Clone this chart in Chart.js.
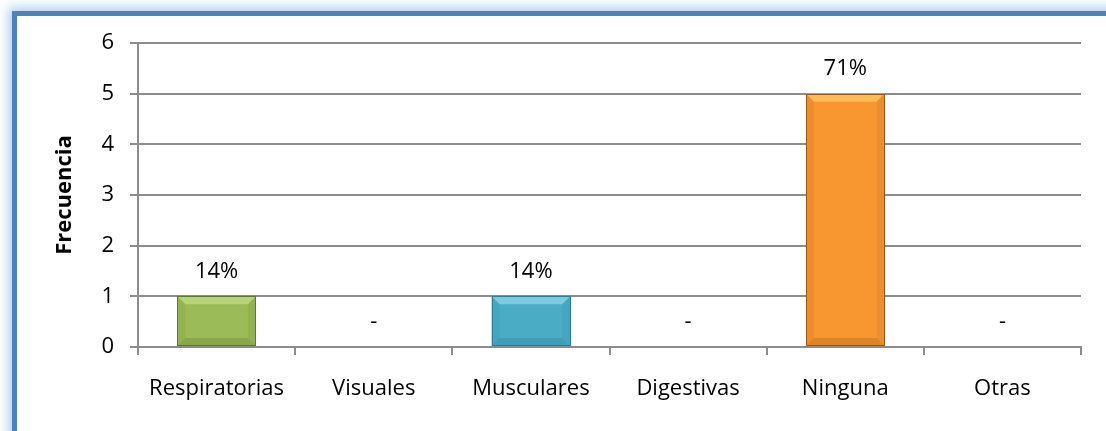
<!DOCTYPE html>
<html><head><meta charset="utf-8">
<script src="https://cdn.jsdelivr.net/npm/chart.js@4.4.1/dist/chart.umd.min.js"></script>
<style>
html,body{margin:0;padding:0;background:#fff;overflow:hidden;}
#wrap{position:relative;width:1106px;height:431px;overflow:hidden;background:#fff;}
#frame{position:absolute;left:12px;top:11px;width:2000px;height:2000px;border-left:5px solid #4F81BD;border-top:5px solid #4F81BD;background:#fff;box-shadow:0 0 10px 4px rgba(160,198,240,0.8);}
#c{position:absolute;left:0;top:0;}
</style></head>
<body><div id="wrap"><div id="frame"></div><canvas id="c" width="1106" height="431"></canvas></div>
<script>
const categories = ["Respiratorias","Visuales","Musculares","Digestivas","Ninguna","Otras"];
const frecuencia = [1,0,1,0,5,0];
const porcentajes = ["14%","-","14%","-","71%","-"];
const yTicks = [0,1,2,3,4,5,6];
const axisTitle = "Frecuencia";
const baseColors = ["#9BBB59","#4BACC6","#4BACC6","#4BACC6","#F8972F","#F79646"];
const lightColors = ["#bcd87e","#86cfe3","#86cfe3","#86cfe3","#ffbf5a","#ffbf5a"];
const darkColors = ["#5d7a2c","#2b7f96","#2b7f96","#2b7f96","#9e561a","#9e561a"];

const FONT = "'Open Sans', sans-serif";

const bevelPlugin = {
  id:'bevel',
  afterDatasetsDraw(chart){
    const ctx = chart.ctx;
    const meta = chart.getDatasetMeta(0);
    meta.data.forEach((bar,i)=>{
      const p = bar.getProps(['x','y','base','width'],true);
      const h = p.base - p.y;
      if (h <= 0) return;
      const l = p.x - p.width/2, r = p.x + p.width/2, t = p.y, b = p.base;
      const s = Math.min(8, h/3);
      ctx.save();
      ctx.fillStyle = lightColors[i];
      ctx.globalAlpha = 0.85;
      ctx.beginPath(); ctx.moveTo(l,t); ctx.lineTo(r,t); ctx.lineTo(r-s,t+s); ctx.lineTo(l+s,t+s); ctx.closePath(); ctx.fill();
      ctx.fillStyle = darkColors[i];
      ctx.globalAlpha = 0.12;
      ctx.beginPath(); ctx.moveTo(l,t); ctx.lineTo(l+s,t+s); ctx.lineTo(l+s,b-s); ctx.lineTo(l,b); ctx.closePath(); ctx.fill();
      ctx.beginPath(); ctx.moveTo(r,t); ctx.lineTo(r-s,t+s); ctx.lineTo(r-s,b-s); ctx.lineTo(r,b); ctx.closePath(); ctx.fill();
      ctx.globalAlpha = 0.3;
      ctx.beginPath(); ctx.moveTo(l,b); ctx.lineTo(l+s,b-s); ctx.lineTo(r-s,b-s); ctx.lineTo(r,b); ctx.closePath(); ctx.fill();
      ctx.globalAlpha = 1;
      ctx.strokeStyle = darkColors[i];
      ctx.lineWidth = 1;
      ctx.strokeRect(Math.round(l)+0.5, Math.round(t)+0.5, Math.round(r-l)-1, Math.round(b-t)-1);
      ctx.restore();
    });
  }
};

const labelPlugin = {
  id:'datalabels',
  afterDatasetsDraw(chart){
    const ctx = chart.ctx;
    const meta = chart.getDatasetMeta(0);
    ctx.save();
    ctx.font = "22px " + FONT;
    ctx.fillStyle = "#000";
    ctx.textAlign = "center";
    ctx.textBaseline = "middle";
    meta.data.forEach((bar,i)=>{
      ctx.fillText(porcentajes[i], bar.x, bar.y - 25);
    });
    ctx.restore();
  }
};

new Chart(document.getElementById('c'), {
  type:'bar',
  data:{
    labels: categories,
    datasets:[{
      data: frecuencia,
      backgroundColor: baseColors,
      borderWidth: 0,
      categoryPercentage: 1.0,
      barPercentage: 0.5
    }]
  },
  options:{
    responsive:false,
    animation:false,
    devicePixelRatio:1,
    layout:{padding:{left:0,top:43,right:25,bottom:0}},
    plugins:{legend:{display:false},tooltip:{enabled:false}},
    scales:{
      x:{
        grid:{display:true,drawOnChartArea:false,drawTicks:true,tickLength:8,color:'#8c8c8c',lineWidth:2,offset:true},
        border:{display:true,color:'#8c8c8c',width:2},
        ticks:{font:{family:FONT,size:22},color:'#000',padding:21,maxRotation:0,autoSkip:false},
        afterFit(s){ s.height = 84; }
      },
      y:{
        min:0,max:6,
        afterBuildTicks(s){ s.ticks = yTicks.map(v=>({value:v})); },
        grid:{color:'#8c8c8c',lineWidth:2,tickLength:8,drawTicks:true},
        border:{display:true,color:'#8c8c8c',width:2},
        ticks:{font:{family:FONT,size:22},color:'#000',padding:16},
        title:{display:true,text:axisTitle,font:{family:FONT,size:22,weight:'bold'},color:'#000',padding:{top:52,bottom:0}},
        afterFit(s){ s.width = 138; }
      }
    }
  },
  plugins:[bevelPlugin,labelPlugin]
});
</script></body></html>
